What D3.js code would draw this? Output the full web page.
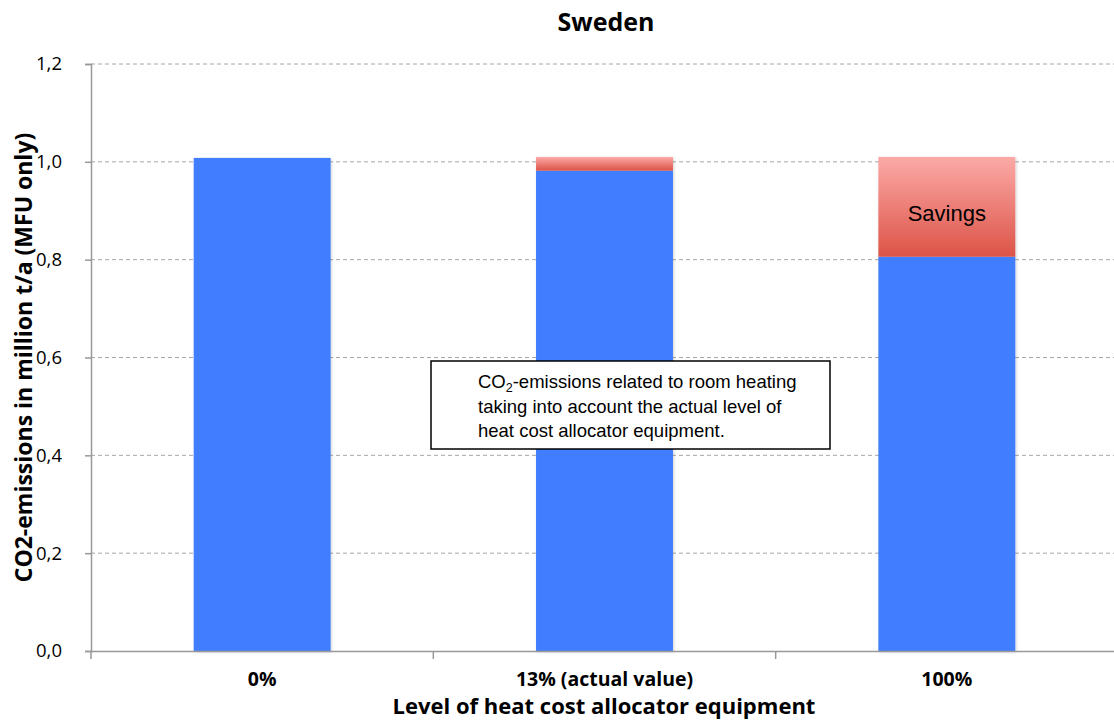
<!DOCTYPE html>
<html><head><meta charset="utf-8">
<script src="https://cdn.jsdelivr.net/npm/d3@7"></script>
<style>body{margin:0;background:#fff}svg{display:block}</style>
</head><body>
<svg id="c" width="1114" height="724"></svg>
<script>
const categories = ["0%", "13% (actual value)", "100%"];
const emissions = [1.008, 0.982, 0.806];
const savings = [0, 0.028, 0.204];
const yTicks = [0, 0.2, 0.4, 0.6, 0.8, 1.0, 1.2];
const title = "Sweden";
const yTitle = "CO2-emissions in million t/a (MFU only)";
const xTitle = "Level of heat cost allocator equipment";

const svg = d3.select("#c");
const m = {l: 91, r: -4, t: 64, b: 73};
const W = 1114, H = 724;
const x = d3.scaleBand().domain(categories).range([m.l, W - m.r]).paddingInner(0.6).paddingOuter(0.3);
const xb = d3.scaleBand().domain(categories).range([m.l, W - m.r]);
const y = d3.scaleLinear().domain([0, 1.2]).range([H - m.b, m.t]);
const font = "Open Sans, sans-serif";

const defs = svg.append("defs");
const g = defs.append("linearGradient").attr("id", "red").attr("x1", 0).attr("y1", 0).attr("x2", 0).attr("y2", 1);
g.append("stop").attr("offset", "0%").attr("stop-color", "#fcaaa7");
g.append("stop").attr("offset", "100%").attr("stop-color", "#dc5347");
const f = defs.append("filter").attr("id", "sh").attr("x", "-10%").attr("y", "-10%").attr("width", "120%").attr("height", "120%");
f.append("feDropShadow").attr("dx", 1).attr("dy", 1).attr("stdDeviation", 1.5).attr("flood-color", "#000").attr("flood-opacity", 0.18);

// gridlines
svg.append("g").selectAll("line").data(yTicks.filter(d => d > 0)).join("line")
  .attr("x1", m.l).attr("x2", W).attr("y1", d => y(d)).attr("y2", d => y(d))
  .attr("stroke", "#a6a6a6").attr("stroke-width", 1).attr("stroke-dasharray", "4,3");

// bars
const bars = svg.append("g");
categories.forEach((c, i) => {
  const gg = bars.append("g").attr("filter", "url(#sh)");
  gg.append("rect").attr("x", x(c)).attr("width", x.bandwidth())
    .attr("y", y(emissions[i])).attr("height", y(0) - y(emissions[i])).attr("fill", "#3f7eff");
  if (savings[i] > 0) {
    gg.append("rect").attr("x", x(c)).attr("width", x.bandwidth())
      .attr("y", y(emissions[i] + savings[i])).attr("height", y(emissions[i]) - y(emissions[i] + savings[i]))
      .attr("fill", "url(#red)");
  }
});

// axes
const ya = svg.append("g").attr("transform", `translate(${m.l},0)`)
  .call(d3.axisLeft(y).tickValues(yTicks).tickSize(6).tickPadding(23).tickFormat(d => d3.format(".1f")(d).replace(".", ",")));
ya.select(".domain").attr("stroke", "#999").attr("stroke-width", 1.5);
ya.selectAll(".tick line").attr("stroke", "#999").attr("stroke-width", 1.5);
ya.selectAll("text").attr("font-family", font).attr("font-size", 18.5).attr("fill", "#000");

const xa = svg.append("g").attr("transform", `translate(0,${y(0)})`)
  .call(d3.axisBottom(xb).tickSize(0).tickPadding(21));
xa.select(".domain").attr("stroke", "#999").attr("stroke-width", 1.5);
xa.selectAll("text").attr("font-family", font).attr("font-weight", "bold").attr("font-size", 19.5).attr("fill", "#000");
svg.append("g").selectAll("line").data(categories).join("line")
  .attr("x1", d => xb(d)).attr("x2", d => xb(d)).attr("y1", y(0)).attr("y2", y(0) + 8)
  .attr("stroke", "#999").attr("stroke-width", 1.5);

// titles
svg.append("text").attr("x", 606).attr("y", 31).attr("text-anchor", "middle")
  .attr("font-family", font).attr("font-weight", "bold").attr("font-size", 25).text(title);
svg.append("text").attr("transform", `translate(32,${(y(0)+y(1.2))/2}) rotate(-90)`).attr("text-anchor", "middle")
  .attr("font-family", font).attr("font-weight", "bold").attr("font-size", 23).text(yTitle);
svg.append("text").attr("x", 604).attr("y", 714).attr("text-anchor", "middle")
  .attr("font-family", font).attr("font-weight", "bold").attr("font-size", 22).text(xTitle);

// savings label
const c3 = categories[2];
svg.append("text").attr("x", x(c3) + x.bandwidth() / 2).attr("y", y(emissions[2] + savings[2] / 2) + 14)
  .attr("text-anchor", "middle").attr("font-family", "Liberation Sans, Arial, sans-serif").attr("font-size", 22).text("Savings");

// annotation box
const bx = 431, by = 361;
svg.append("rect").attr("x", bx).attr("y", by).attr("width", 399).attr("height", 88)
  .attr("fill", "#fff").attr("stroke", "#000").attr("stroke-width", 1.5);
const ann = svg.append("g").attr("font-family", "Liberation Sans, Arial, sans-serif").attr("font-size", 18.5).attr("fill", "#000");
const t1 = ann.append("text").attr("x", 478).attr("y", 388);
t1.append("tspan").text("CO");
t1.append("tspan").attr("font-size", 12.5).attr("dy", 4).text("2");
t1.append("tspan").attr("dy", -4).text("-emissions related to room heating");
ann.append("text").attr("x", 478).attr("y", 413).text("taking into account the actual level of");
ann.append("text").attr("x", 478).attr("y", 437).text("heat cost allocator equipment.");
</script>
</body></html>
